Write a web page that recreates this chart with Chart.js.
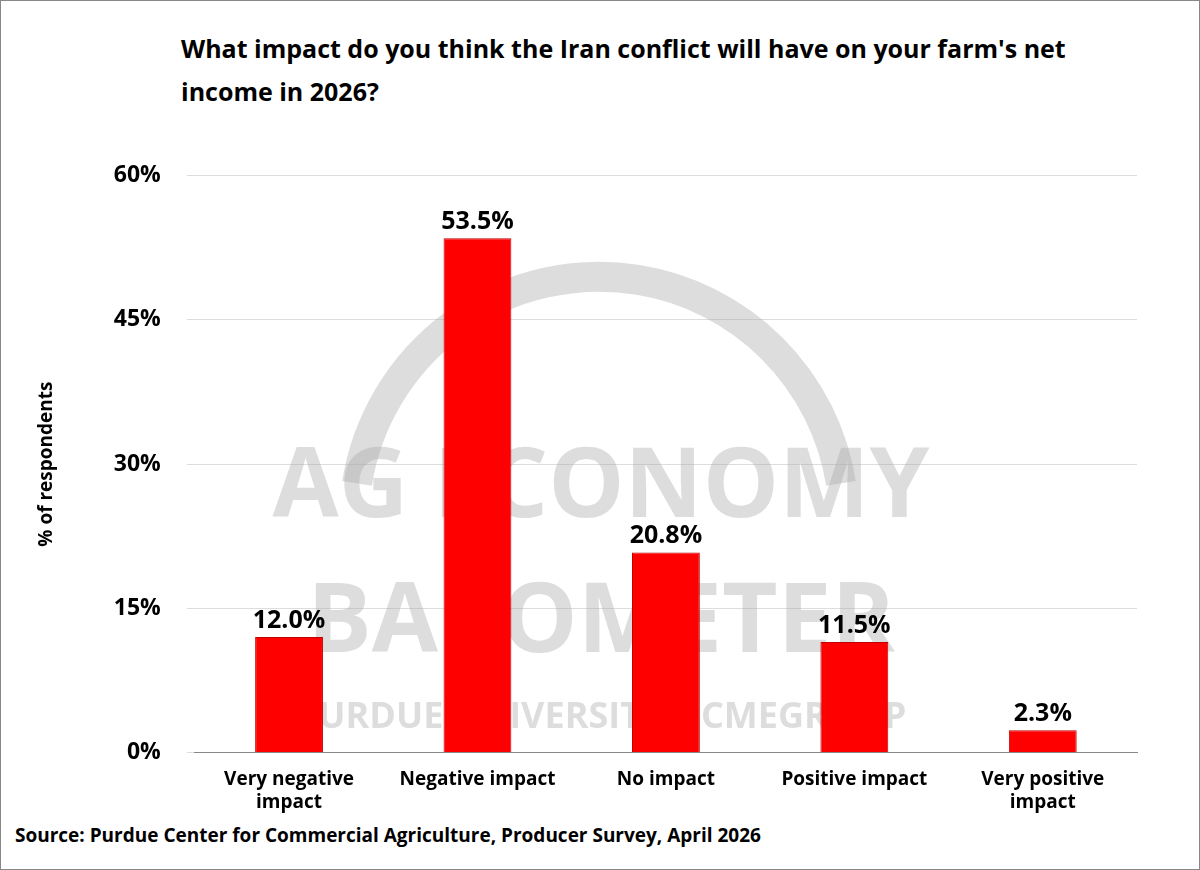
<!DOCTYPE html>
<html><head><meta charset="utf-8">
<script src="https://cdn.jsdelivr.net/npm/chart.js@4.4.1/dist/chart.umd.min.js"></script>
<style>
html,body{margin:0;padding:0;background:#fff;}
#wrap{position:relative;width:1198px;height:868px;border:1px solid #888;overflow:hidden;font-family:"Open Sans",Calibri,sans-serif;}
#title{position:absolute;left:180px;top:26px;width:940px;font-size:25px;font-weight:bold;line-height:43px;color:#000;}
#src{position:absolute;left:14px;top:821px;font-size:19px;font-weight:bold;color:#000;}
#cw{position:absolute;left:0;top:135px;width:1198px;height:686px;}
</style></head>
<body><div id="wrap">
<div id="title">What impact do you think the Iran conflict will have on your farm's net income in 2026?</div>
<div id="cw"><canvas id="c"></canvas></div>
<div id="src">Source: Purdue Center for Commercial Agriculture, Producer Survey, April 2026</div>
</div>
<script>
const categories=[["Very negative","impact"],"Negative impact","No impact","Positive impact",["Very positive","impact"]];
const values=[12.0,53.5,20.8,11.5,2.3];
const yTicks=[0,15,30,45,60];

const watermark={id:'wm',beforeDatasetsDraw(ch){
  const c=ch.ctx;c.save();
  c.fillStyle='rgba(170,170,170,0.4)';c.textAlign='center';
  c.font='bold 96px "Open Sans",sans-serif';
  c.fillText('AG ECONOMY',600,ch.scales.y.getPixelForValue(25)+5);
  c.fillText('BAROMETER',600,ch.scales.y.getPixelForValue(11)+5);
  c.font='bold 36px "Open Sans",sans-serif';
  c.fillText('PURDUE UNIVERSITY    CMEGROUP',600,ch.scales.y.getPixelForValue(2.5));
  c.strokeStyle='rgba(170,170,170,0.4)';c.lineWidth=30;
  c.beginPath();c.arc(598,ch.scales.y.getPixelForValue(24),245,Math.PI*1.05,Math.PI*1.95);c.stroke();
  c.restore();}};
const labels={id:'lbl',afterDatasetsDraw(ch){
  const c=ch.ctx;c.save();c.font='bold 25px "Open Sans",sans-serif';c.fillStyle='#000';c.textAlign='center';c.textBaseline='bottom';
  ch.getDatasetMeta(0).data.forEach((b,i)=>c.fillText(values[i].toFixed(1)+'%',b.x,b.y-4));c.restore();}};

new Chart(document.getElementById('c'),{type:'bar',
 data:{labels:categories,datasets:[{data:values,backgroundColor:'#ff0000',borderColor:'#c00000',borderWidth:1,categoryPercentage:0.72,barPercentage:0.5}]},
 options:{responsive:true,maintainAspectRatio:false,animation:false,
  layout:{padding:{left:30,right:62,top:10,bottom:0}},
  plugins:{legend:{display:false},tooltip:{enabled:false}},
  scales:{
   x:{grid:{display:false},border:{color:'#888'},ticks:{color:'#000',font:{size:19,weight:'bold',family:'"Open Sans",sans-serif'},maxRotation:0,padding:8}},
   y:{min:0,max:60,afterBuildTicks(s){s.ticks=yTicks.map(v=>({value:v}));},
    grid:{color:'#ddd'},border:{display:false},
    ticks:{color:'#000',padding:26,font:{size:23,weight:'bold',family:'"Open Sans",sans-serif'},callback:v=>v+'%'},
    title:{display:true,text:'% of respondents',color:'#000',font:{size:19,weight:'bold',family:'"Open Sans",sans-serif'},padding:{bottom:30}}}}},
 plugins:[watermark,labels]});
</script></body></html>
